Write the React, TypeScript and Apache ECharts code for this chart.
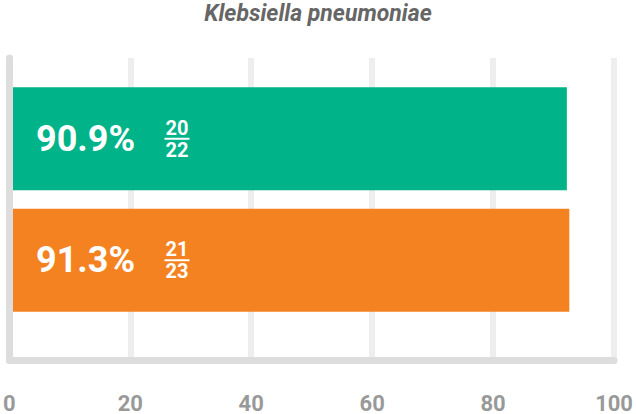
import { useEffect, useRef } from "react";
import * as echarts from "echarts";

const title = "Klebsiella pneumoniae";
const groups = ["A", "B"];
const percents = [90.9, 91.3];
const numerators = [20, 21];
const denominators = [22, 23];
const barColors = ["#00b388", "#f58220"];
const xTicks = [0, 20, 40, 60, 80, 100];

const FONT = "Roboto, 'Noto Sans', sans-serif";

export default function App() {
  const chartRef = useRef<HTMLDivElement>(null);

  useEffect(() => {
    if (!chartRef.current) return;
    const chart = echarts.init(chartRef.current, undefined, { renderer: "svg" });

    const option: echarts.EChartsOption = {
      animation: false,
      title: {
        text: title,
        left: "center",
        top: 0,
        padding: [1, 5, 1, 5],
        textStyle: {
          fontFamily: FONT,
          fontSize: 23,
          lineHeight: 24,
          fontStyle: "italic",
          fontWeight: "bold",
          color: "#666666",
        },
      },
      grid: [
        // axes + gridlines
        { left: 6, right: 13, top: 58, bottom: 52 },
        // bars
        { left: 6, right: 13, top: 78, bottom: 93 },
      ],
      xAxis: [
        {
          gridIndex: 0,
          type: "value",
          min: xTicks[0],
          max: xTicks[xTicks.length - 1],
          interval: 20,
          axisLine: {
            show: true,
            onZero: false,
            lineStyle: { color: "#dddddd", width: 7 },
          },
          axisTick: { show: false },
          splitLine: { show: true, lineStyle: { color: "#eeeeee", width: 6 } },
          axisLabel: {
            margin: 32,
            fontFamily: FONT,
            fontSize: 22,
            fontWeight: "bold",
            color: "#999999",
          },
        },
        {
          gridIndex: 1,
          type: "value",
          min: 0,
          max: 100,
          show: false,
        },
      ],
      yAxis: [
        {
          gridIndex: 0,
          type: "value",
          min: 0,
          max: 1,
          z: 10,
          axisLine: {
            show: true,
            onZero: false,
            lineStyle: { color: "#dddddd", width: 7 },
          },
          axisTick: { show: false },
          axisLabel: { show: false },
          splitLine: { show: false },
        },
        {
          gridIndex: 1,
          type: "category",
          data: groups,
          inverse: true,
          show: false,
        },
      ],
      series: [
        {
          type: "bar",
          xAxisIndex: 1,
          yAxisIndex: 1,
          barWidth: 103,
          z: 3,
          data: percents.map((v, i) => ({
            value: v,
            itemStyle: { color: barColors[i] },
          })),
          label: {
            show: true,
            position: "insideLeft",
            distance: 30,
            formatter: (p: any) => `${p.value.toFixed(1)}%`,
            fontFamily: FONT,
            fontSize: 36,
            fontWeight: "bold",
            color: "#ffffff",
          },
        },
        {
          type: "bar",
          xAxisIndex: 1,
          yAxisIndex: 1,
          barWidth: 103,
          barGap: "-100%",
          z: 4,
          data: percents,
          itemStyle: { color: "rgba(0,0,0,0)" },
          label: {
            show: true,
            position: "insideLeft",
            distance: 171,
            align: "center",
            formatter: (p: any) =>
              `{n|${numerators[p.dataIndex]}}\n{l| }\n{d|${denominators[p.dataIndex]}}`,
            rich: {
              n: {
                fontFamily: FONT,
                fontSize: 20,
                fontWeight: "bold",
                color: "#ffffff",
                lineHeight: 18,
              },
              l: {
                width: 25,
                height: 2,
                lineHeight: 4,
                fontSize: 2,
                backgroundColor: "#ffffff",
              },
              d: {
                fontFamily: FONT,
                fontSize: 20,
                fontWeight: "bold",
                color: "#ffffff",
                lineHeight: 18,
              },
            },
          },
        },
      ],
    };

    chart.setOption(option);
    return () => chart.dispose();
  }, []);

  return (
    <div
      ref={chartRef}
      style={{ width: 636, height: 414, position: "absolute", left: 0, top: 0 }}
    />
  );
}
